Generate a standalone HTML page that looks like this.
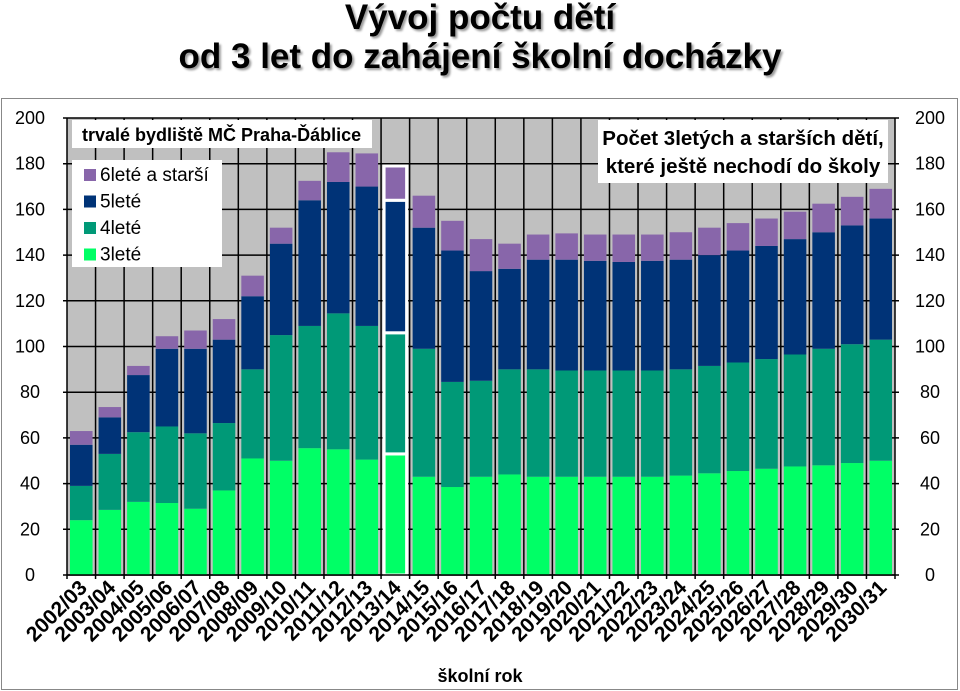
<!DOCTYPE html>
<html><head><meta charset="utf-8">
<style>
body{margin:0;width:960px;height:691px;background:#fff;overflow:hidden;font-family:"Liberation Sans",sans-serif}
.t{position:absolute;left:0;width:960px;text-align:center;font-weight:bold;font-size:35px;color:#000;text-shadow:2px 2px 2px #999;line-height:40px}
</style></head><body>
<div class="t" style="top:-2px">Vývoj počtu dětí</div>
<div class="t" style="top:37px">od 3 let do zahájení školní docházky</div>
<svg id="c" width="960" height="691" style="position:absolute;left:0;top:0"></svg>
<script>
const categories=["2002/03","2003/04","2004/05","2005/06","2006/07","2007/08","2008/09","2009/10","2010/11","2011/12","2012/13","2013/14","2014/15","2015/16","2016/17","2017/18","2018/19","2019/20","2020/21","2021/22","2022/23","2023/24","2024/25","2025/26","2026/27","2027/28","2028/29","2029/30","2030/31"];
const age3=[24,28.5,32,31.5,29,37,51,50,55.5,55,50.5,53,43,38.5,43,44,43,43,43,43,43,43.5,44.5,45.5,46.5,47.5,48,49,50];
const age4=[15,24.5,30.5,33.5,33,29.5,39,55,53.5,59.5,58.5,53,56,46,42,46,47,46.5,46.5,46.5,46.5,46.5,47,47.5,48,49,51,52,53];
const age5=[18,16,25,34,37,36.5,32,40,55,57.5,61,58,53,57.5,48,44,48,48.5,48,47.5,48,48,48.5,49,49.5,50.5,51,52,53];
const age6=[6,4.5,4,5.5,8,9,9,7,8.5,13,14.5,15,14,13,14,11,11,11.5,11.5,12,11.5,12,12,12,12,12,12.5,12.5,13];
const yTicks=[0,20,40,60,80,100,120,140,160,180,200];
const highlight="2013/14";
const NS="http://www.w3.org/2000/svg",svg=document.getElementById('c');
const X0=67,X1=895,Y0=575,Y1=118,yMax=200;
const cw=(X1-X0)/categories.length;
const y=v=>Y0-(v/yMax)*(Y0-Y1);
const x=i=>X0+i*cw;
function mk(t,a,p){const e=document.createElementNS(NS,t);for(const k in a)e.setAttribute(k,a[k]);(p||svg).appendChild(e);return e;}
const frame=mk('rect',{x:1.5,y:98.5,width:956,height:591,fill:'none',stroke:'#888'});


const bg=mk('rect',{x:X0,y:Y1,width:X1-X0,height:Y0-Y1,fill:'#c0c0c0'});


yTicks.forEach(v=>{
 mk('line',{x1:X0-4,x2:X1+4,y1:y(v),y2:y(v),stroke:'#000','stroke-width':1.5});
 const l=mk('text',{x:30,y:y(v)+6,'text-anchor':'middle','font-size':18,fill:'#000'});l.textContent=v;
 
 
 const r=mk('text',{x:930,y:y(v)+6,'text-anchor':'middle','font-size':18,fill:'#000'});r.textContent=v;
 
 
});
for(let i=0;i<=categories.length;i++)mk('line',{x1:x(i),x2:x(i),y1:Y1,y2:Y0+4,stroke:'#000','stroke-width':1.5});
const series=[[age3,'#00ff66','3'],[age4,'#009977','4'],[age5,'#003377','5'],[age6,'#8866aa','6']];
categories.forEach((c,i)=>{
 let cum=0;const bx=x(i)+3,bw=cw-6;const hl=c===highlight;
 series.forEach(([arr,col,n])=>{
  const v=arr[i];const r=mk('rect',{x:bx,y:y(cum+v),width:bw,height:y(cum)-y(cum+v),fill:col});
  if(hl){r.setAttribute('stroke','#fff');r.setAttribute('stroke-width',3);}
  
  
  cum+=v;
 });
 const cx=x(i)+cw/2+7;
 const t=mk('text',{x:cx,y:589,'text-anchor':'end','font-size':21,'font-weight':'bold',transform:`rotate(-45 ${cx} 589)`});
 t.textContent=c;
 
 
});
mk('line',{x1:X0,x2:X1,y1:Y0,y2:Y0,stroke:'#000','stroke-width':1.5});
const lb=mk('rect',{x:72,y:120,width:300,height:28,fill:'#fff'});


const lt=mk('text',{x:82,y:141,'font-size':18,'font-weight':'bold'});lt.textContent='trvalé bydliště MČ Praha-Ďáblice';


const lg=mk('rect',{x:72,y:160,width:150,height:107,fill:'#fff'});


[['6leté a starší','#8866aa'],['5leté','#003377'],['4leté','#009977'],['3leté','#00ff66']].forEach(([n,col],k)=>{
 const yy=166+k*26.5;
 const s=mk('rect',{x:84,y:yy+3,width:12,height:12,fill:col});
 
 
 const t=mk('text',{x:100,y:yy+15,'font-size':19});t.textContent=n;
 
 
});
const rb=mk('rect',{x:598,y:120,width:290,height:63,fill:'#fff'});


['Počet 3letých a starších dětí,','které ještě nechodí do školy'].forEach((s,k)=>{
 const t=mk('text',{x:743,y:145+k*28,'text-anchor':'middle','font-size':20.5,'font-weight':'bold'});t.textContent=s;
 
 
});
const xt=mk('text',{x:480,y:682,'text-anchor':'middle','font-size':18,'font-weight':'bold'});xt.textContent='školní rok';


</script>
</body></html>
